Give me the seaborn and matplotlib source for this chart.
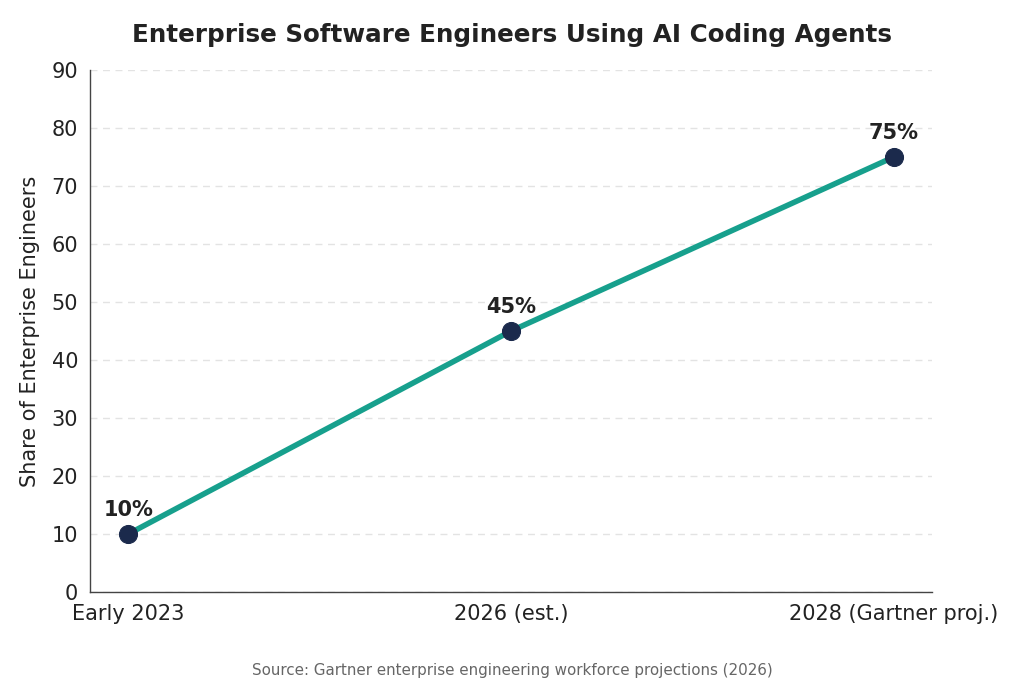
import pandas as pd
import matplotlib
matplotlib.use("Agg")
import matplotlib.pyplot as plt
import seaborn as sns

# data
periods = ["Early 2023", "2026 (est.)", "2028 (Gartner proj.)"]
share = [10, 45, 75]
point_labels = ["10%", "45%", "75%"]

df = pd.DataFrame({"Period": periods, "Share": share})
df["x"] = range(len(periods))

sns.set_style("white")
plt.rcParams["font.family"] = ["DejaVu Sans"]

fig = plt.figure(figsize=(10.24, 6.83), dpi=100)
ax = fig.add_axes([0.0879, 0.1332, 0.8223, 0.7643])

sns.lineplot(data=df, x="x", y="Share", ax=ax, color="#17a08d", linewidth=4,
             marker="o", markersize=13, markerfacecolor="#1b2a4c",
             markeredgecolor="#1b2a4c", zorder=3)

for xi, yi, lab in zip(df["x"], df["Share"], point_labels):
    ax.annotate(lab, (xi, yi), xytext=(0, 10), textcoords="offset points",
                ha="center", va="bottom", fontsize=15, fontweight="bold",
                color="#222222")

ax.set_xlim(-0.1, 2.1)
ax.set_ylim(0, 90)
ax.set_xticks(df["x"])
ax.set_xticklabels(periods)
ax.set_yticks(range(0, 91, 10))
ax.tick_params(axis="both", labelsize=15, colors="#222222", length=5)
ax.tick_params(axis="both", color="#444444")
ax.set_xlabel("")
ax.set_ylabel("Share of Enterprise Engineers", fontsize=15, color="#222222",
              labelpad=8)
ax.yaxis.grid(True, linestyle=(0, (5, 4)), color="#e3e3e3", linewidth=1)
ax.set_axisbelow(True)
sns.despine(ax=ax)
for s in ["left", "bottom"]:
    ax.spines[s].set_color("#444444")
    ax.spines[s].set_linewidth(1)

fig.suptitle("Enterprise Software Engineers Using AI Coding Agents",
             fontsize=17.7, fontweight="bold", color="#222222", y=0.967)
fig.text(0.5, 0.008, "Source: Gartner enterprise engineering workforce projections (2026)",
         ha="center", va="bottom", fontsize=10.9, color="#666666")

fig.savefig("out.png", dpi=100)
